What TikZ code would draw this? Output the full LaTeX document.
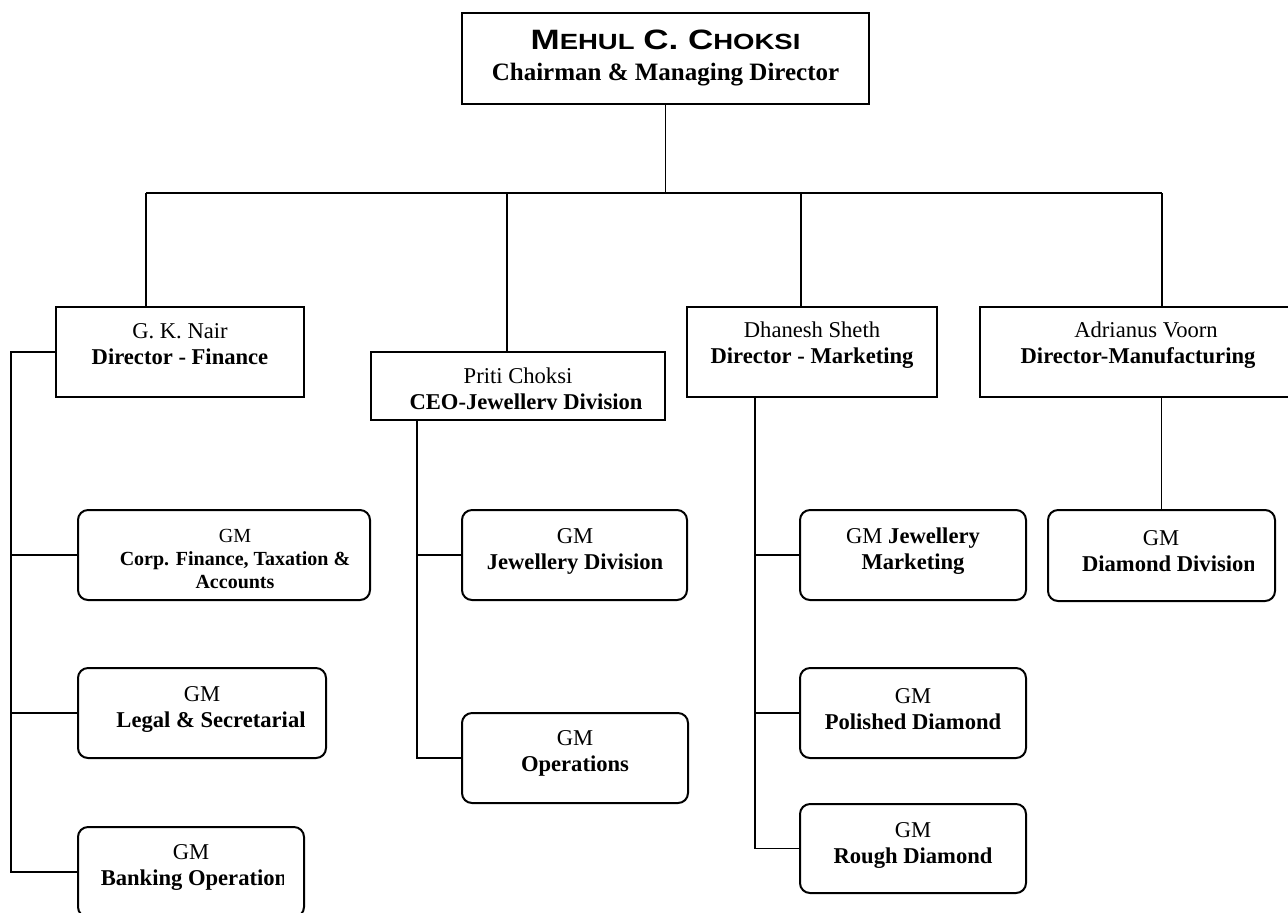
\documentclass[tikz,border=0pt]{standalone}
\usepackage{fontspec}
\setmainfont{Liberation Serif}
\newfontfamily\namefont[FakeStretch=1.25]{Liberation Sans Bold}
\usetikzlibrary{positioning}

\newcommand{\capbig}[1]{{\fontsize{14}{16}\selectfont #1}}

\begin{document}
\begin{tikzpicture}[x=0.5pt, y=-0.5pt, line width=0.9pt,
		dirbox/.style={draw, line width=1pt, inner sep=0pt},
		gmbox/.style={dirbox, rounded corners=5pt},
		lbl/.style={align=center, inner sep=0pt, font=\fontsize{11.3}{13}\selectfont},
		smalllbl/.style={lbl, font=\fontsize{10}{11.5}\selectfont}]
		\useasboundingbox (0,0) rectangle (1288,912);

		% directors
		\node[dirbox, minimum width=203.5pt, minimum height=45.5pt] (cmd) at (665.5,58.5) {};
		\node[dirbox, minimum width=124pt, minimum height=45pt] (nair) at (180,352) {};
		\node[dirbox, minimum width=147pt, minimum height=34pt] (priti) at (518,386) {};
		\node[dirbox, minimum width=125pt, minimum height=45pt] (dhanesh) at (812,352) {};
		\node[dirbox, minimum width=158pt, minimum height=45pt] (adrianus) at (1138,352) {};

		% general managers
		\node[gmbox, minimum width=146pt, minimum height=45pt] (corp) at (224,555) {};
		\node[gmbox, minimum width=124pt, minimum height=45pt] (legal) at (202,713) {};
		\node[gmbox, minimum width=113pt, minimum height=45pt] (banking) at (191,872) {};
		\node[gmbox, minimum width=112.5pt, minimum height=45pt] (jdiv) at (574.5,555) {};
		\node[gmbox, minimum width=113pt, minimum height=45pt] (ops) at (575,758) {};
		\node[gmbox, minimum width=113pt, minimum height=45pt] (jmkt) at (913,555) {};
		\node[gmbox, minimum width=113pt, minimum height=45pt] (polished) at (913,713) {};
		\node[gmbox, minimum width=113pt, minimum height=44.5pt] (rough) at (913,848.5) {};
		\node[gmbox, minimum width=113.5pt, minimum height=45.5pt] (ddiv) at (1161.5,555.5) {};

		% texts
		\node[align=center, inner sep=0pt, font=\fontsize{12.5}{15.5}\selectfont] (cmdtxt) at (665.5,58)
			{{\namefont\capbig{M}{\fontsize{11}{16}\selectfont EHUL} \capbig{C. C}{\fontsize{11}{16}\selectfont HOKSI}}\\
			\textbf{Chairman \& Managing Director}};
		\node[lbl] (nairtxt) at (180,344) {G. K. Nair\\ \textbf{Director - Finance}};
		\node[lbl] (dhaneshtxt) at (812,345) {Dhanesh Sheth\\ \textbf{Director - Marketing}};
		\node[lbl] (adrianustxt) at (1138,345) {\hspace*{8pt}Adrianus Voorn\\ \textbf{Director-Manufacturing}};
		\begin{scope}
			\clip (371,352) rectangle (665,409);
			\node[lbl] (pritixt) at (518,391) {Priti Choksi\\ \hspace*{8pt}\textbf{CEO-Jewellery Division}};
		\end{scope}

		\node[smalllbl] (corptxt) at (235,559) {GM\\ \textbf{Corp. Finance, Taxation \&}\\ \textbf{Accounts}};
		\begin{scope}
			\clip (78,668) rectangle (304,758);
			\node[lbl] (legaltxt) at (202,709) {GM\\ \hspace*{9pt}\textbf{Legal \& Secretarial}};
		\end{scope}
		\begin{scope}
			\clip (78,827) rectangle (283,912);
			\node[lbl] (bankingtxt) at (191,867) {GM\\ \hspace*{3pt}\textbf{Banking Operation}};
		\end{scope}
		\node[lbl] (jdivtxt) at (575,551) {GM\\ \textbf{Jewellery Division}};
		\node[lbl] (opstxt) at (575,753) {GM\\ \textbf{Operations}};
		\node[lbl] (jmkttxt) at (913,551) {GM \textbf{Jewellery}\\ \textbf{Marketing}};
		\node[lbl] (polishedtxt) at (913,709) {GM\\ \textbf{Polished Diamond}};
		\node[lbl] (roughtxt) at (913,845) {GM\\ \textbf{Rough Diamond}};
		\begin{scope}
			\clip (1048,510) rectangle (1253,601);
			\node[lbl] (ddivtxt) at (1161,551) {GM\\ \hspace*{8pt}\textbf{Diamond Division}};
		\end{scope}

		% connectors
		\coordinate (busL) at (146,193);
		\coordinate (busR) at (1162,193);
		\coordinate (dropP) at (507,193);
		\coordinate (dropD) at (801,193);
		\coordinate (finspine) at (11,0);
		\coordinate (jewspine) at (417,0);
		\coordinate (mktspine) at (755,0);

		\draw (cmd.south) -- (cmd.south |- busL);
		\draw (busL) -- (busR);
		\draw (busL) -- (busL |- nair.north);
		\draw (dropP) -- (dropP |- priti.north);
		\draw (dropD) -- (dropD |- dhanesh.north);
		\draw (busR) -- (busR |- adrianus.north);

		\draw (nair.west) -- (nair.west -| finspine) |- (banking.west);
		\draw (corp.west) -- (corp.west -| finspine);
		\draw (legal.west) -- (legal.west -| finspine);

		\draw (priti.south -| jewspine) |- (ops.west);
		\draw (jdiv.west) -- (jdiv.west -| jewspine);

		\draw (dhanesh.south -| mktspine) |- (rough.west);
		\draw (jmkt.west) -- (jmkt.west -| mktspine);
		\draw (polished.west) -- (polished.west -| mktspine);

		\draw (ddiv.north) -- (ddiv.north |- adrianus.south);
	\end{tikzpicture}
\end{document}
